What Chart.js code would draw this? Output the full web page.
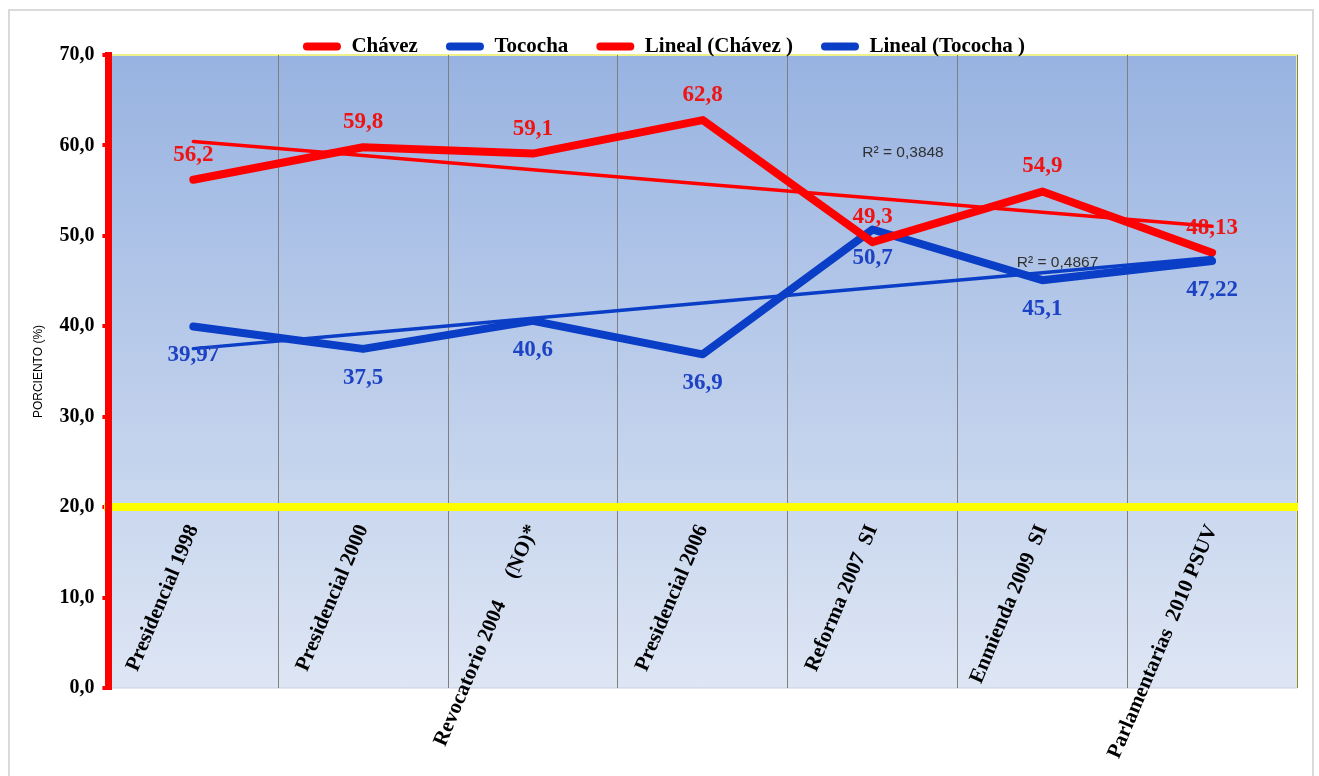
<!DOCTYPE html>
<html>
<head>
<meta charset="utf-8">
<script src="https://cdn.jsdelivr.net/npm/chart.js@4.4.1/dist/chart.umd.min.js"></script>
<style>
  html, body { margin: 0; padding: 0; background: #fff; overflow: hidden; }
  #frame { position: absolute; left: 8px; top: 9px; width: 1302px; height: 800px; border: 2px solid #dadada; }
  #wrap { position: absolute; left: 0; top: 0; width: 1319px; height: 776px; }
</style>
</head>
<body>
<div id="frame"></div>
<div id="wrap"><canvas id="votosChart"></canvas></div>
<script>
// Datos de las elecciones (porcentajes)
const categories = ['Presidencial 1998', 'Presidencial 2000', 'Revocatorio 2004     (NO)*', 'Presidencial 2006',
                    'Reforma 2007  SI', 'Enmienda 2009  SI', 'Parlamentarias  2010 PSUV'];
const chavez = [56.2, 59.8, 59.1, 62.8, 49.3, 54.9, 48.13];
const tococha = [39.97, 37.5, 40.6, 36.9, 50.7, 45.1, 47.22];
const seriesNames = ['Chávez', 'Tococha', 'Lineal (Chávez )', 'Lineal (Tococha )'];
const r2Labels = ['R² = 0,3848', 'R² = 0,4867'];
const yTicks = [0, 10, 20, 30, 40, 50, 60, 70];

const RED = '#ff0000';
const BLUE = '#0b3ec6';
const SERIF = '"Liberation Serif", "Times New Roman", serif';

// linea de tendencia (minimos cuadrados, como Excel)
function linearTrend(values) {
  const n = values.length;
  const xs = values.map((v, i) => i + 1);
  const mx = xs.reduce((a, b) => a + b, 0) / n;
  const my = values.reduce((a, b) => a + b, 0) / n;
  let sxy = 0, sxx = 0;
  xs.forEach((x, i) => { sxy += (x - mx) * (values[i] - my); sxx += (x - mx) * (x - mx); });
  const slope = sxy / sxx;
  return xs.map(x => my + slope * (x - mx));
}

const fmt = v => String(v).replace('.', ',');

// fondo degradado del area de trazado
const plotBackground = {
  id: 'plotBackground',
  afterLayout(chart) {
    // la leyenda queda pegada al area de trazado, como en Excel
    if (chart.legend) { chart.legend.top += 12; chart.legend.bottom += 12; }
  },
  beforeDraw(chart) {
    const { ctx, chartArea: a } = chart;
    const g = ctx.createLinearGradient(0, a.top, 0, a.bottom);
    g.addColorStop(0, '#98b3e1');
    g.addColorStop(1, '#dee6f4');
    ctx.save();
    ctx.fillStyle = g;
    ctx.fillRect(a.left, a.top, a.right - a.left, a.bottom - a.top);
    ctx.strokeStyle = '#eef08a';
    ctx.lineWidth = 2;
    ctx.beginPath();
    ctx.moveTo(a.left, a.top); ctx.lineTo(a.right, a.top); ctx.lineTo(a.right, a.bottom);
    ctx.stroke();
    ctx.strokeStyle = '#c5d0e4';
    ctx.lineWidth = 1;
    ctx.beginPath();
    ctx.moveTo(a.left, a.bottom); ctx.lineTo(a.right, a.bottom);
    ctx.stroke();
    ctx.restore();
  }
};

// etiquetas de valores y R²
const valueLabels = {
  id: 'valueLabels',
  afterDatasetsDraw(chart) {
    const ctx = chart.ctx;
    ctx.save();
    ctx.textAlign = 'center';
    ctx.textBaseline = 'middle';
    ctx.font = 'bold 23px ' + SERIF;
    [0, 1].forEach(di => {
      const meta = chart.getDatasetMeta(di);
      const data = chart.data.datasets[di].data;
      ctx.fillStyle = di === 0 ? '#ee1414' : '#1d42c4';
      meta.data.forEach((pt, i) => {
        const y = di === 0 ? pt.y - 25 : pt.y + 29;
        ctx.fillText(fmt(data[i]), pt.x, y);
      });
    });
    const xs = chart.scales.x, ys = chart.scales.y;
    ctx.font = '15.5px "Liberation Sans", Arial, sans-serif';
    ctx.fillStyle = '#303030';
    ctx.textAlign = 'left';
    ctx.fillText(r2Labels[0], xs.getPixelForValue(3.94), ys.getPixelForValue(59.2));
    ctx.fillText(r2Labels[1], xs.getPixelForValue(4.85), ys.getPixelForValue(47.0));
    ctx.restore();
  }
};

const ctx = document.getElementById('votosChart').getContext('2d');
new Chart(ctx, {
  type: 'line',
  data: {
    labels: categories,
    datasets: [
      { label: seriesNames[0], data: chavez, borderColor: RED, backgroundColor: RED, borderWidth: 8, order: 3 },
      { label: seriesNames[1], data: tococha, borderColor: BLUE, backgroundColor: BLUE, borderWidth: 8, order: 4 },
      { label: seriesNames[2], data: linearTrend(chavez), borderColor: RED, backgroundColor: RED, borderWidth: 3.5, order: 1 },
      { label: seriesNames[3], data: linearTrend(tococha), borderColor: BLUE, backgroundColor: BLUE, borderWidth: 3.5, order: 2 }
    ]
  },
  options: {
    responsive: true,
    maintainAspectRatio: false,
    animation: false,
    elements: {
      point: { radius: 0, hoverRadius: 0 },
      line: { tension: 0, borderJoinStyle: 'round', borderCapStyle: 'round' }
    },
    layout: { padding: { left: 31, right: 22, top: -4, bottom: 88 } },
    plugins: {
      tooltip: { enabled: false },
      legend: {
        position: 'top',
        labels: {
          color: '#000',
          font: { family: SERIF, size: 21, weight: 'bold' },
          boxWidth: 38,
          boxHeight: 8,
          padding: 28,
          generateLabels(chart) {
            return chart.data.datasets.map((ds, i) => ({
              text: ds.label,
              fillStyle: ds.borderColor,
              strokeStyle: ds.borderColor,
              lineWidth: 0,
              borderRadius: 4,
              fontColor: '#000',
              datasetIndex: i
            }));
          }
        }
      }
    },
    scales: {
      x: {
        type: 'category',
        offset: true,
        position: { y: 20 },
        grid: { offset: true, color: '#7f7f7f', lineWidth: 1, drawTicks: false },
        border: { color: '#ffff00', width: 8 },
        ticks: {
          color: '#000',
          font: { family: SERIF, size: 21, weight: 'bold' },
          minRotation: 67,
          maxRotation: 67,
          autoSkip: false,
          padding: 14
        }
      },
      y: {
        min: 0,
        max: 70,
        afterBuildTicks(scale) { scale.ticks = yTicks.map(v => ({ value: v })); },
        grid: { drawOnChartArea: false, color: RED, lineWidth: 4, tickLength: 6 },
        border: { color: RED, width: 7 },
        ticks: {
          color: '#000',
          font: { family: SERIF, size: 20, weight: 'bold' },
          padding: 8,
          callback: v => v.toFixed(1).replace('.', ',')
        },
        title: {
          display: true,
          text: 'PORCIENTO (%)',
          color: '#000',
          font: { family: '"Liberation Sans", Arial, sans-serif', size: 12 },
          padding: { top: 0, bottom: 6 }
        }
      }
    }
  },
  plugins: [plotBackground, valueLabels]
});
</script>
</body>
</html>
